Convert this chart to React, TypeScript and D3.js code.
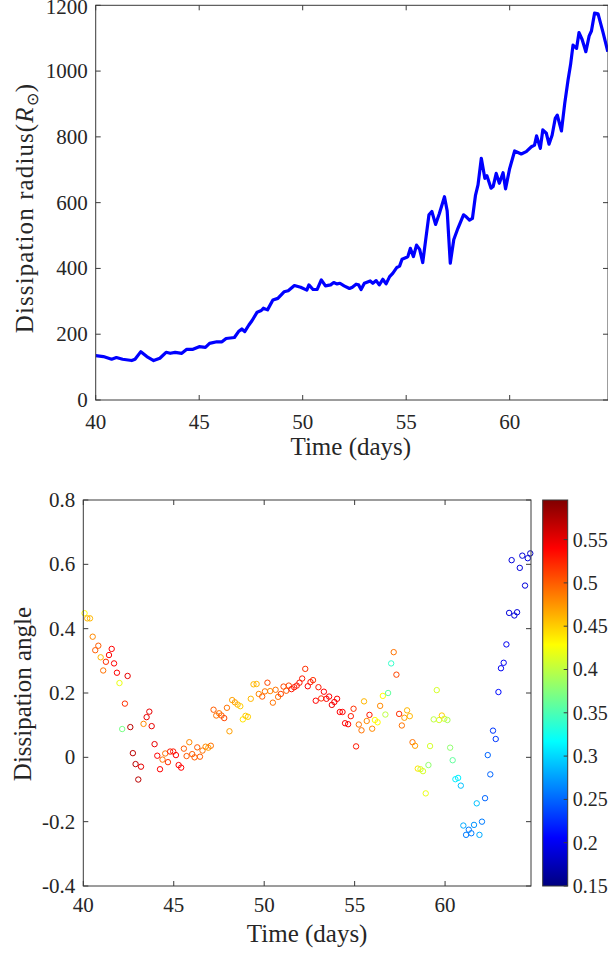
import React from "react";
import * as d3 from "d3";

// ---------- Top panel: dissipation radius ----------
const TIME_R = [40.0,40.37,40.77,41.0,41.3,41.74,41.9,42.18,42.47,42.8,43.1,43.4,43.6,43.84,44.16,44.4,44.7,45.0,45.3,45.5,45.85,46.1,46.3,46.7,46.9,47.06,47.2,47.4,47.55,47.8,48.0,48.1,48.3,48.56,48.8,49.1,49.3,49.6,49.9,50.2,50.3,50.5,50.7,50.9,51.1,51.35,51.5,51.66,51.8,52.0,52.26,52.4,52.58,52.7,52.82,52.98,53.26,53.39,53.55,53.7,53.87,54.03,54.2,54.35,54.55,54.68,54.8,55.0,55.08,55.2,55.35,55.5,55.65,55.8,55.94,56.1,56.24,56.42,56.6,56.85,56.98,57.13,57.3,57.5,57.77,57.9,58.06,58.2,58.35,58.47,58.63,58.8,58.9,59.1,59.2,59.35,59.5,59.68,59.8,60.0,60.24,60.56,60.8,61.05,61.2,61.3,61.48,61.6,61.77,61.9,62.05,62.2,62.3,62.5,62.66,62.82,62.94,63.06,63.23,63.35,63.5,63.68,63.84,63.95,64.1,64.27,64.5,64.74];
const RADIUS = [135,132,124,129,124,120,124,147,132,120,127,145,142,145,142,154,154,162,160,172,177,177,187,190,208,216,208,228,241,267,272,279,274,304,309,329,332,348,343,334,350,336,336,365,347,350,357,353,355,347,339,343,352,350,336,355,362,355,363,350,367,353,375,385,403,407,428,433,436,461,436,471,458,418,486,563,573,534,566,618,575,416,488,522,563,557,547,552,623,654,735,674,682,644,649,689,659,691,642,704,757,748,755,770,775,803,765,821,811,778,805,856,866,818,902,973,1019,1079,1069,1117,1096,1059,1107,1122,1176,1174,1120,1059];

// ---------- Bottom panel: dissipation angle ----------
const TIME_A = [40.07,40.22,40.37,40.52,40.66,40.83,40.96,41.1,41.25,41.42,41.57,41.7,41.86,42.0,42.15,42.3,42.45,42.6,42.74,42.89,43.04,43.19,43.33,43.5,43.65,43.78,43.94,44.09,44.24,44.38,44.53,44.68,44.8,44.97,45.12,45.27,45.41,45.56,45.71,45.86,46.02,46.15,46.3,46.45,46.59,46.76,46.91,47.05,47.2,47.35,47.51,47.64,47.79,47.94,48.08,48.23,48.38,48.53,48.68,48.82,48.97,49.1,49.26,49.41,49.58,49.7,
49.89,50.04,50.18,50.33,50.48,50.63,50.77,50.92,51.07,51.22,51.36,51.51,51.66,51.8,51.95,52.1,52.27,52.41,52.56,52.7,52.85,53.0,53.15,53.3,53.44,53.59,53.74,53.88,54.03,54.18,54.33,54.47,54.64,54.79,54.94,55.08,55.23,55.38,55.52,55.67,55.82,55.97,56.12,56.27,56.41,56.56,56.7,56.85,57.02,57.16,57.31,57.46,57.61,57.75,57.9,58.05,58.2,58.34,58.49,58.64,58.78,58.93,59.08,59.17,
59.37,59.54,59.67,59.82,59.96,60.13,60.28,60.42,60.57,60.72,60.87,61.01,61.16,61.31,61.45,61.6,61.75,61.9,62.04,62.21,62.36,62.5,62.65,62.8,62.95,63.09,63.24,63.39,63.54,63.68,63.83,63.98,64.13,64.27,64.42,64.57,64.71];
const ANGLE = [0.448,0.432,0.432,0.375,0.333,0.347,0.311,0.27,0.297,0.318,0.337,0.292,0.263,0.231,0.088,0.167,0.253,0.094,0.013,-0.021,-0.069,-0.029,0.104,0.125,0.142,0.097,0.041,0.005,-0.037,-0.007,0.012,-0.015,0.018,0.018,0.007,-0.024,-0.032,0.027,0.004,0.047,0.01,0.0,0.031,0.002,0.021,0.033,0.03,0.036,0.148,0.13,0.137,0.13,0.122,0.154,0.081,0.178,0.171,0.164,0.159,0.118,0.129,0.126,0.182,0.227,0.228,0.197,
0.189,0.205,0.232,0.206,0.17,0.21,0.188,0.197,0.22,0.207,0.223,0.212,0.218,0.223,0.232,0.245,0.275,0.221,0.234,0.24,0.176,0.218,0.183,0.204,0.182,0.189,0.163,0.172,0.182,0.141,0.141,0.106,0.103,0.128,0.151,0.034,0.102,0.084,0.174,0.113,0.132,0.089,0.116,0.109,0.16,0.191,0.133,0.2,0.292,0.327,0.257,0.135,0.099,0.123,0.146,0.128,0.047,0.036,-0.035,-0.037,-0.043,-0.112,-0.024,0.035,
0.118,0.209,0.116,0.13,0.12,0.116,0.03,-0.009,-0.068,-0.064,-0.088,-0.212,-0.241,-0.225,-0.236,-0.21,-0.143,-0.241,-0.2,-0.127,0.007,-0.053,0.083,0.057,0.203,0.277,0.294,0.351,0.449,0.613,0.441,0.451,0.589,0.627,0.534,0.619,0.634];
const COLOR_VAL = [0.43,0.46,0.46,0.48,0.5,0.5,0.46,0.49,0.52,0.54,0.54,0.54,0.54,0.42,0.37,0.52,0.55,0.57,0.57,0.57,0.57,0.55,0.48,0.55,0.55,0.55,0.55,0.54,0.54,0.49,0.49,0.52,0.53,0.53,0.54,0.54,0.54,0.5,0.5,0.48,0.5,0.5,0.5,0.5,0.49,0.48,0.47,0.49,0.5,0.49,0.49,0.5,0.51,0.49,0.47,0.47,0.47,0.46,0.45,0.44,0.45,0.45,0.46,0.46,0.46,0.48,
0.5,0.49,0.51,0.48,0.49,0.49,0.49,0.51,0.51,0.5,0.51,0.53,0.53,0.53,0.53,0.53,0.52,0.54,0.53,0.52,0.54,0.53,0.52,0.54,0.54,0.54,0.55,0.54,0.54,0.54,0.54,0.54,0.54,0.53,0.52,0.53,0.49,0.49,0.46,0.48,0.53,0.48,0.43,0.43,0.48,0.43,0.4,0.36,0.34,0.49,0.51,0.52,0.49,0.47,0.46,0.46,0.49,0.47,0.44,0.41,0.41,0.42,0.38,0.41,
0.4,0.41,0.41,0.45,0.41,0.39,0.38,0.36,0.31,0.31,0.29,0.28,0.26,0.26,0.26,0.27,0.29,0.28,0.26,0.25,0.25,0.25,0.23,0.23,0.21,0.2,0.2,0.2,0.19,0.19,0.19,0.19,0.19,0.19,0.19,0.19,0.18];

const X_TICKS = [40, 45, 50, 55, 60];
const R_TICKS = [0, 200, 400, 600, 800, 1000, 1200];
const A_TICKS = [-0.4, -0.2, 0, 0.2, 0.4, 0.6, 0.8];
const C_TICKS = [0.15, 0.2, 0.25, 0.3, 0.35, 0.4, 0.45, 0.5, 0.55];
const X_DOMAIN = [40, 64.75];
const C_DOMAIN = [0.15, 0.5957];

const AX = "#3a3a3a";
const TXT = "#262626";
const FONT = "Liberation Serif, Times New Roman, serif";
const TICK_FS = 21;
const CBAR_FS = 20;
const LABEL_FS = 25;

function jet(t: number): string {
  const cl = (v: number) => Math.max(0, Math.min(1, v));
  const r = cl(Math.min(4 * t - 1.5, -4 * t + 4.5));
  const g = cl(Math.min(4 * t - 0.5, -4 * t + 3.5));
  const b = cl(Math.min(4 * t + 0.5, -4 * t + 2.5));
  return d3.rgb(r * 255, g * 255, b * 255).toString();
}

function fmtA(v: number) {
  if (Math.abs(v) < 1e-9) return "0";
  return (v < 0 ? "-" : "") + String(Math.abs(v));
}

export default function App() {
  // top
  const tL = 95.7, tR = 608, tT = 5.3, tB = 400;
  const xT = d3.scaleLinear().domain(X_DOMAIN).range([tL, tR]);
  const yT = d3.scaleLinear().domain([0, 1200]).range([tB, tT]);
  const line = d3
    .line<number>()
    .x((_, i) => xT(TIME_R[i]))
    .y((d) => yT(d));
  // bottom
  const bL = 83.3, bR = 531, bT = 500, bB = 886;
  const xB = d3.scaleLinear().domain(X_DOMAIN).range([bL, bR]);
  const yB = d3.scaleLinear().domain([-0.4, 0.8]).range([bB, bT]);
  const cL = 542.7, cR = 567.7;
  const yC = d3.scaleLinear().domain(C_DOMAIN).range([bB, bT]);
  const cNorm = d3.scaleLinear().domain(C_DOMAIN).range([0, 1]).clamp(true);
  const stops = d3.range(0, 65).map((i) => i / 64);
  const tick = 5;

  return (
    <svg
      width={608}
      height={953}
      style={{ position: "absolute", left: 0, top: 0, background: "#fff", fontFamily: FONT }}
    >
      <defs>
        <clipPath id="clipTop">
          <rect x={tL} y={tT} width={tR - tL} height={tB - tT} />
        </clipPath>
        <linearGradient id="jetGrad" x1="0" y1="1" x2="0" y2="0">
          {stops.map((s) => (
            <stop key={s} offset={s} stopColor={jet(s)} />
          ))}
        </linearGradient>
      </defs>
      <rect x={0} y={0} width={608} height={953} fill="#fff" />

      {/* ===== Top panel ===== */}
      <path d={line(RADIUS) || ""} fill="none" stroke="#0000ff" strokeWidth={3.2} strokeLinejoin="round" clipPath="url(#clipTop)" />
      <rect x={tL} y={tT} width={tR - tL} height={tB - tT} fill="none" stroke={AX} strokeWidth={1} />
      {X_TICKS.map((v) => (
        <g key={"tx" + v}>
          <line x1={xT(v)} x2={xT(v)} y1={tB} y2={tB - tick} stroke={AX} />
          <line x1={xT(v)} x2={xT(v)} y1={tT} y2={tT + tick} stroke={AX} />
          <text x={xT(v)} y={tB + 29} fontSize={TICK_FS} textAnchor="middle" fill={TXT}>{v}</text>
        </g>
      ))}
      {R_TICKS.map((v) => (
        <g key={"ty" + v}>
          <line x1={tL} x2={tL + tick} y1={yT(v)} y2={yT(v)} stroke={AX} />
          <line x1={tR} x2={tR - tick} y1={yT(v)} y2={yT(v)} stroke={AX} />
          <text x={tL - 8} y={Math.max(yT(v) + 7, 14)} fontSize={TICK_FS} textAnchor="end" fill={TXT}>{v}</text>
        </g>
      ))}
      <text x={(tL + tR) / 2 - 1} y={455} fontSize={LABEL_FS} textAnchor="middle" fill={TXT}>Time (days)</text>
      <text transform={`translate(33,${208}) rotate(-90)`} fontSize={LABEL_FS} textAnchor="middle" fill={TXT} letterSpacing={1.1}>
        Dissipation radius(<tspan fontStyle="italic">R</tspan>
        <tspan fontSize={16} dy={5}>⊙</tspan>
        <tspan dy={-5}>)</tspan>
      </text>

      {/* ===== Bottom panel ===== */}
      {ANGLE.map((v, i) => (
        <circle key={"p" + i} cx={xB(TIME_A[i])} cy={yB(v)} r={2.7} fill="none" stroke={jet(cNorm(COLOR_VAL[i]))} strokeWidth={1} />
      ))}
      <rect x={bL} y={bT} width={bR - bL} height={bB - bT} fill="none" stroke={AX} strokeWidth={1} />
      {X_TICKS.map((v) => (
        <g key={"bx" + v}>
          <line x1={xB(v)} x2={xB(v)} y1={bB} y2={bB - tick} stroke={AX} />
          <line x1={xB(v)} x2={xB(v)} y1={bT} y2={bT + tick} stroke={AX} />
          <text x={xB(v)} y={bB + 26} fontSize={TICK_FS} textAnchor="middle" fill={TXT}>{v}</text>
        </g>
      ))}
      {A_TICKS.map((v) => (
        <g key={"by" + v}>
          <line x1={bL} x2={bL + tick} y1={yB(v)} y2={yB(v)} stroke={AX} />
          <line x1={bR} x2={bR - tick} y1={yB(v)} y2={yB(v)} stroke={AX} />
          <text x={bL - 8} y={yB(v) + 7} fontSize={TICK_FS} textAnchor="end" fill={TXT}>{fmtA(v)}</text>
        </g>
      ))}
      <text x={(bL + bR) / 2} y={942} fontSize={LABEL_FS} textAnchor="middle" fill={TXT}>Time (days)</text>
      <text transform={`translate(31,${694}) rotate(-90)`} fontSize={LABEL_FS} textAnchor="middle" fill={TXT}>Dissipation angle</text>

      {/* colorbar */}
      <rect x={cL} y={bT} width={cR - cL} height={bB - bT} fill="url(#jetGrad)" />
      <rect x={cL} y={bT} width={cR - cL} height={bB - bT} fill="none" stroke={AX} strokeWidth={1} />
      {C_TICKS.map((v) => (
        <g key={"c" + v}>
          <line x1={cR} x2={cR - 4} y1={yC(v)} y2={yC(v)} stroke={AX} />
          <text x={cR + 5} y={Math.min(yC(v) + 7, 950)} fontSize={CBAR_FS} textAnchor="start" fill={TXT}>{v}</text>
        </g>
      ))}
    </svg>
  );
}
